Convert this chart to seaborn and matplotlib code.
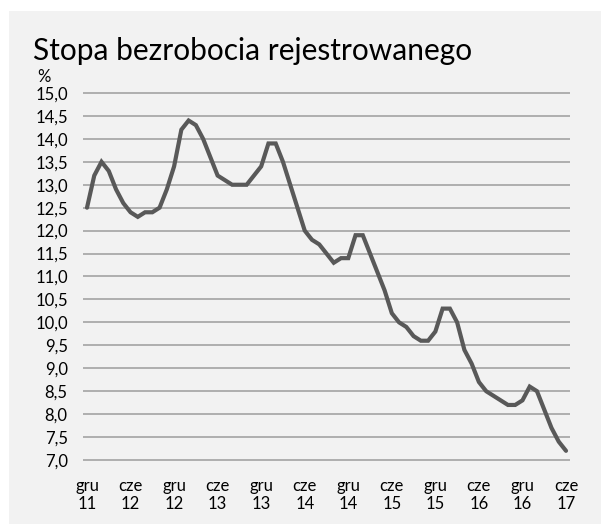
import numpy as np
import pandas as pd
import seaborn as sns
import matplotlib.pyplot as plt
from matplotlib.patches import Rectangle

# registered unemployment rate, monthly, Dec 2011 - Jun 2017
rate_2011 = [12.5]
rate_2012 = [13.2, 13.5, 13.3, 12.9, 12.6, 12.4, 12.3, 12.4, 12.4, 12.5, 12.9, 13.4]
rate_2013 = [14.2, 14.4, 14.3, 14.0, 13.6, 13.2, 13.1, 13.0, 13.0, 13.0, 13.2, 13.4]
rate_2014 = [13.9, 13.9, 13.5, 13.0, 12.5, 12.0, 11.8, 11.7, 11.5, 11.3, 11.4, 11.4]
rate_2015 = [11.9, 11.9, 11.5, 11.1, 10.7, 10.2, 10.0, 9.9, 9.7, 9.6, 9.6, 9.8]
rate_2016 = [10.3, 10.3, 10.0, 9.4, 9.1, 8.7, 8.5, 8.4, 8.3, 8.2, 8.2, 8.3]
rate_2017 = [8.6, 8.5, 8.1, 7.7, 7.4, 7.2]

tick_labels = ["gru\n11", "cze\n12", "gru\n12", "cze\n13", "gru\n13", "cze\n14",
               "gru\n14", "cze\n15", "gru\n15", "cze\n16", "gru\n16", "cze\n17"]
y_ticks = [7.0, 7.5, 8.0, 8.5, 9.0, 9.5, 10.0, 10.5, 11.0, 11.5, 12.0, 12.5,
           13.0, 13.5, 14.0, 14.5, 15.0]

rate = rate_2011 + rate_2012 + rate_2013 + rate_2014 + rate_2015 + rate_2016 + rate_2017
df = pd.DataFrame({"month": np.arange(len(rate)), "rate": rate})

sns.set_theme(style="white")
plt.rcParams['font.family'] = ['Lato', 'DejaVu Sans']

W, H = 601, 524
fig = plt.figure(figsize=(W / 100, H / 100), dpi=100, facecolor="white")
fig.patches.append(Rectangle((9 / W, 0), 1, 1 - 11 / H, transform=fig.transFigure,
                             facecolor="#f2f2f2", edgecolor="none", zorder=-10))

# axes placed so gridline 15,0 sits at y=93 and 7,0 at y=460 (pixels)
y_lo, y_hi = 6.8, 15.2
px_per_unit = (460 - 93) / 8.0
top_px = 93 - (y_hi - 15.0) * px_per_unit
bot_px = 460 + (7.0 - y_lo) * px_per_unit
left_px, right_px = 83, 570
ax = fig.add_axes([left_px / W, 1 - bot_px / H, (right_px - left_px) / W, (bot_px - top_px) / H])
ax.set_facecolor("none")

sns.lineplot(data=df, x="month", y="rate", ax=ax, color="#595959", linewidth=3.0,
             solid_joinstyle="miter", zorder=3)

px_month = (566 - 87) / 66
ax.set_xlim(-(87 - left_px) / px_month, 66 + (right_px - 566) / px_month)
ax.set_ylim(y_lo, y_hi)

for y in y_ticks:
    ax.axhline(y, color="#a3a3a3", linewidth=1.2, zorder=1)

ax.set_yticks(y_ticks)
ax.set_yticklabels([f"{v:.1f}".replace(".", ",") for v in y_ticks])
ax.set_xticks(np.arange(0, 67, 6))
ax.set_xticklabels(tick_labels, linespacing=1.2)
ax.tick_params(axis="y", length=0, pad=11, labelsize=12, colors="#000000")
ax.tick_params(axis="x", length=0, pad=6, labelsize=12, colors="#000000")
ax.set_xlabel("")
ax.set_ylabel("")
for s in ax.spines.values():
    s.set_visible(False)

fig.text(33 / W, 1 - 60 / H, "Stopa bezrobocia rejestrowanego", fontsize=21.5,
         ha="left", va="baseline", color="#000000")
fig.text(37 / W, 1 - 77 / H, "%", fontsize=12, ha="left", va="center", color="#000000")

fig.savefig("out.png", dpi=100, facecolor=fig.get_facecolor())
